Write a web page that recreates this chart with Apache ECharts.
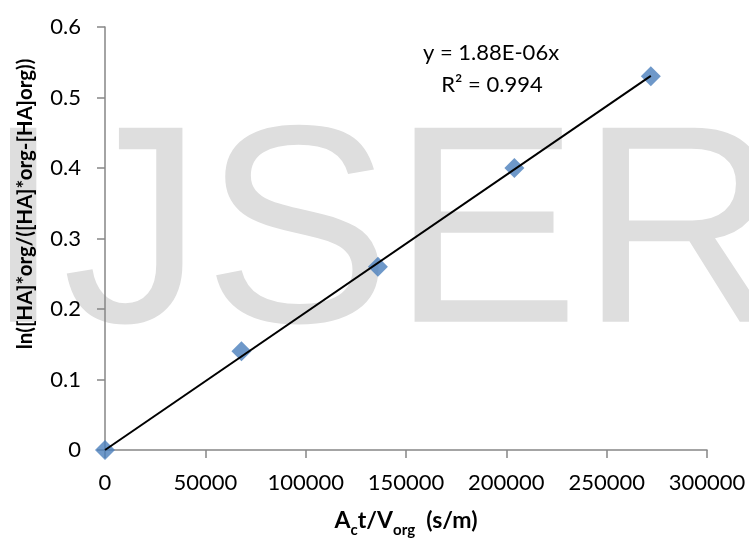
<!DOCTYPE html>
<html>
<head>
<meta charset="utf-8">
<script src="https://cdn.jsdelivr.net/npm/echarts@6/dist/echarts.min.js"></script>
<style>
  html, body { margin: 0; padding: 0; background: #fff; }
  #chart { width: 749px; height: 540px; }
</style>
</head>
<body>
<div id="chart"></div>
<script>
// measured points
var xValues = [0, 68000, 136000, 204000, 272000];
var yValues = [0, 0.14, 0.26, 0.40, 0.53];
var eqText = 'y = 1.88E-06x';
var r2Text = 'R\u00b2 = 0.994';

var points = [];
for (var i = 0; i < xValues.length; i++) {
    points.push([xValues[i], yValues[i]]);
}

// trendline through origin (least squares)
var sxy = 0, sxx = 0;
for (var j = 0; j < xValues.length; j++) {
    sxy += xValues[j] * yValues[j];
    sxx += xValues[j] * xValues[j];
}
var slope = sxy / sxx;
var xMax = Math.max.apply(null, xValues);
var trend = [[0, 0], [xMax, slope * xMax]];

var font = 'Lato, "Open Sans", sans-serif';
var axisGray = '#868686';

var chart = echarts.init(document.getElementById('chart'));
chart.setOption({
    animation: false,
    backgroundColor: '#fff',
    grid: { left: 105, right: 42, top: 27, bottom: 90, outerBoundsMode: 'none', containLabel: false },
    xAxis: {
        type: 'value',
        min: 0, max: 300000, interval: 50000,
        axisLine: { lineStyle: { color: axisGray, width: 1.5 } },
        axisTick: { show: true, length: 8, lineStyle: { color: axisGray, width: 1.5 } },
        splitLine: { show: false },
        axisLabel: { color: '#000', fontFamily: font, fontSize: 22, margin: 22, formatter: function (v) { return String(v); } },
        name: '{b|A}{bs|c}{b|t/V}{bs|org}{b|  (s/m)}',
        nameLocation: 'middle',
        nameGap: 54,
        nameTextStyle: {
            rich: {
                b: { fontFamily: font, fontWeight: 'bold', fontSize: 23, color: '#000', verticalAlign: 'bottom', lineHeight: 28 },
                bs: { fontFamily: font, fontWeight: 'bold', fontSize: 15, color: '#000', verticalAlign: 'bottom', lineHeight: 20, padding: [0, 0, -6, 0] }
            }
        }
    },
    yAxis: {
        type: 'value',
        min: 0, max: 0.6, interval: 0.1,
        axisLine: { show: true, lineStyle: { color: axisGray, width: 1.5 } },
        axisTick: { show: true, length: 8, lineStyle: { color: axisGray, width: 1.5 } },
        splitLine: { show: false },
        axisLabel: { color: '#000', fontFamily: font, fontSize: 22, margin: 24 }
    },
    graphic: [
        {
            type: 'text', z: -10, silent: true,
            left: -16, top: 103,
            style: {
                text: 'IJSER', fill: '#dedede',
                font: '282px "Liberation Sans", Arial, sans-serif'
            }
        },
        {
            type: 'text', z: 100,
            x: 25, y: 204, rotation: Math.PI / 2,
            style: {
                text: 'ln([HA]*org/([HA]*org-[HA]org))',
                fill: '#000',
                font: 'bold 20.5px Lato, "Open Sans", sans-serif',
                align: 'center', verticalAlign: 'middle'
            }
        },
        {
            type: 'text', z: 100,
            x: 491, y: 53,
            style: {
                text: eqText, fill: '#000',
                font: '22px Lato, "Open Sans", sans-serif',
                align: 'center', verticalAlign: 'middle'
            }
        },
        {
            type: 'text', z: 100,
            x: 492, y: 85,
            style: {
                text: r2Text, fill: '#000',
                font: '22px Lato, "Open Sans", sans-serif',
                align: 'center', verticalAlign: 'middle'
            }
        }
    ],
    series: [
        {
            type: 'line',
            data: trend,
            symbol: 'none',
            lineStyle: { color: '#000', width: 2 },
            z: 3
        },
        {
            type: 'scatter',
            data: points,
            symbol: 'diamond',
            symbolSize: 20,
            itemStyle: { color: '#4a7ebb' },
            z: 2
        }
    ]
});
</script>
</body>
</html>
